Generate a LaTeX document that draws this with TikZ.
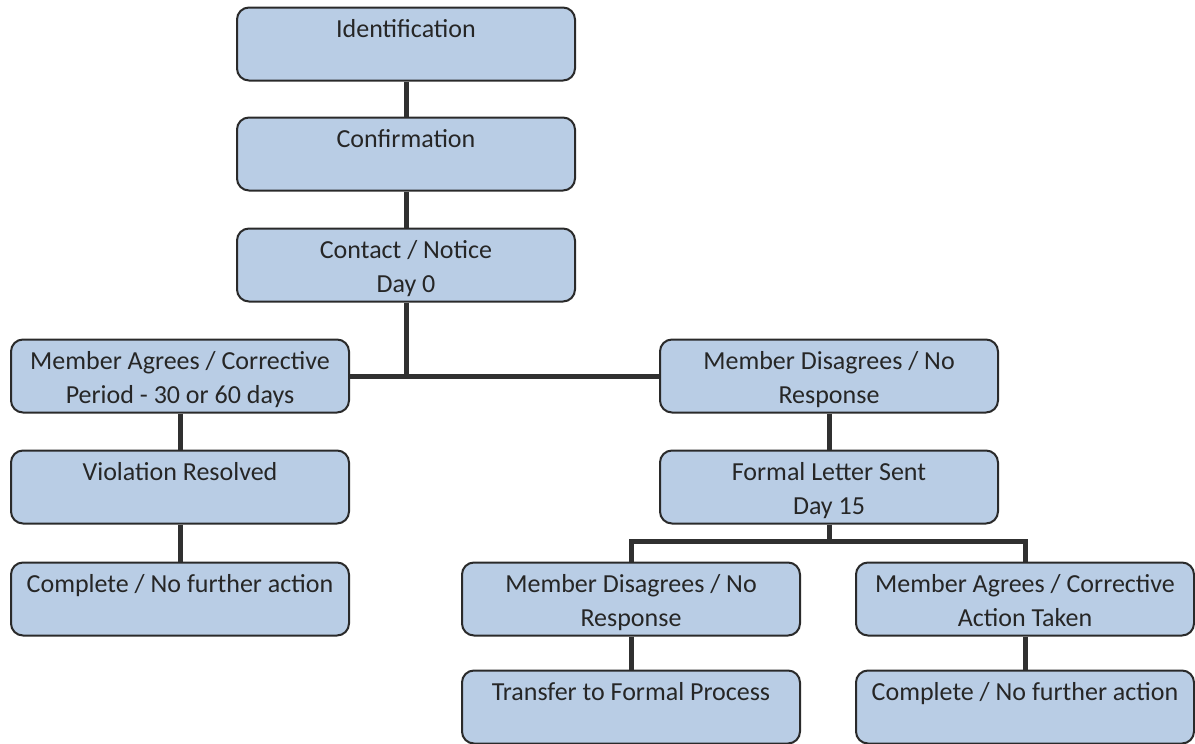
\documentclass[tikz,border=0pt]{standalone}
\usepackage{fontspec}
\setmainfont{Carlito}
\definecolor{boxfill}{HTML}{B9CDE5}
\definecolor{boxline}{HTML}{2A2A2A}
\definecolor{wire}{HTML}{303030}
\begin{document}
\begin{tikzpicture}[x=0.5pt, y=-0.5pt,
  stepbox/.style={draw=boxline, line width=1pt, fill=boxfill, rounded corners=6pt,
    minimum width=169pt, minimum height=36.5pt, inner ysep=0pt,
    text height=30.5pt, text depth=3.5pt, align=center, text=black!85,
    font=\fontsize{13}{17}\selectfont},
  conn/.style={draw=wire, line width=2.5pt}]
  \useasboundingbox (0,0) rectangle (1195,744);

  \node[stepbox] (ident)   at (406,44)  {Identification\\\mbox{}};
  \node[stepbox] (confirm) at (406,154) {Confirmation\\\mbox{}};
  \node[stepbox] (contact) at (406,265) {Contact / Notice\\Day 0};

  \node[stepbox] (agreeA)    at (180,376) {Member Agrees / Corrective\\Period - 30 or 60 days};
  \node[stepbox] (disagreeA) at (829,376) {Member Disagrees / No\\Response};

  \node[stepbox] (resolved) at (180,487) {Violation Resolved\\\mbox{}};
  \node[stepbox] (letter)   at (829,487) {Formal Letter Sent\\Day 15};

  \node[stepbox] (completeA) at (180,599)  {Complete / No further action\\\mbox{}};
  \node[stepbox] (disagreeB) at (631,599)  {Member Disagrees / No\\Response};
  \node[stepbox] (agreeB)    at (1025,599) {Member Agrees / Corrective\\Action Taken};

  \node[stepbox] (transfer)  at (631,707)  {Transfer to Formal Process\\\mbox{}};
  \node[stepbox] (completeB) at (1025,707) {Complete / No further action\\\mbox{}};

  \coordinate (split) at (829,541);

  \draw[conn] (ident) -- (confirm);
  \draw[conn] (confirm) -- (contact);
  \draw[conn] (contact) -- (contact |- agreeA);
  \draw[conn] (agreeA) -- (disagreeA);
  \draw[conn] (agreeA) -- (resolved);
  \draw[conn] (resolved) -- (completeA);
  \draw[conn] (disagreeA) -- (letter);
  \draw[conn] (letter) -- (split);
  \draw[conn] (disagreeB) |- (split) -| (agreeB);
  \draw[conn] (disagreeB) -- (transfer);
  \draw[conn] (agreeB) -- (completeB);
\end{tikzpicture}
\end{document}
